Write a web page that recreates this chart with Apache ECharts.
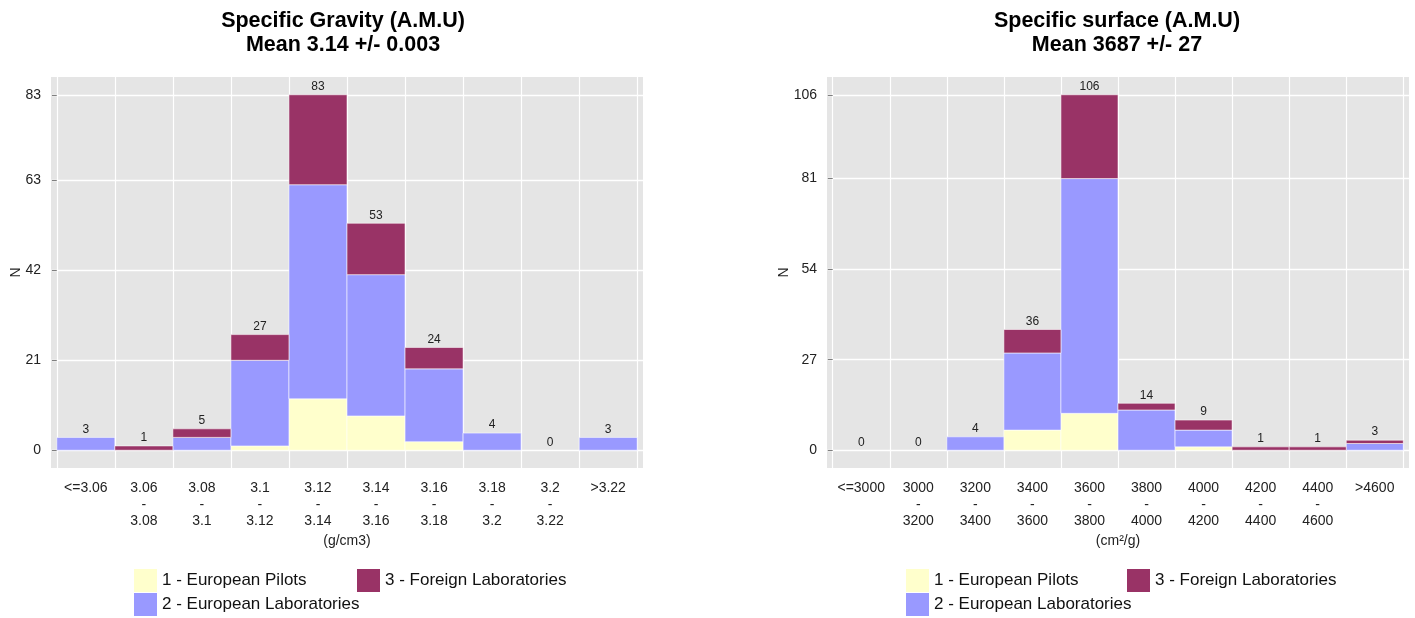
<!DOCTYPE html>
<html>
<head>
<meta charset="utf-8">
<script src="https://cdn.jsdelivr.net/npm/echarts@6/dist/echarts.min.js"></script>
<style>
html,body{margin:0;padding:0;background:#fff;}
#c{width:1415px;height:618px;}
</style>
</head>
<body>
<div id="c"></div>
<script>
// ---- data ----
const leftTitle = 'Specific Gravity (A.M.U)\nMean 3.14 +/- 0.003';
const rightTitle = 'Specific surface (A.M.U)\nMean 3687 +/- 27';
const leftCategories = ['<=3.06','3.06\n-\n3.08','3.08\n-\n3.1','3.1\n-\n3.12','3.12\n-\n3.14','3.14\n-\n3.16','3.16\n-\n3.18','3.18\n-\n3.2','3.2\n-\n3.22','>3.22'];
const rightCategories = ['<=3000','3000\n-\n3200','3200\n-\n3400','3400\n-\n3600','3600\n-\n3800','3800\n-\n4000','4000\n-\n4200','4200\n-\n4400','4400\n-\n4600','>4600'];
const leftPilots  = [0,0,0,1,12,8,2,0,0,0];
const leftEuLabs  = [3,0,3,20,50,33,17,4,0,3];
const leftForeign = [0,1,2,6,21,12,5,0,0,0];
const rightPilots  = [0,0,0,6,11,0,1,0,0,0];
const rightEuLabs  = [0,0,4,23,70,12,5,0,0,2];
const rightForeign = [0,0,0,7,25,2,3,1,1,1];
const leftTicks = [0,21,42,63,83];
const rightTicks = [0,27,54,81,106];
const leftXName = '(g/cm3)';
const rightXName = '(cm²/g)';
const seriesNames = ['1 - European Pilots','2 - European Laboratories','3 - Foreign Laboratories'];
const seriesColors = ['#FFFFCC','#9999FF','#993366'];

// ---- build ----
const FONT = 'Liberation Sans, Arial, sans-serif';
function stackSeries(gi, groups){
  const out = [];
  const base = groups[0].map(()=>0);
  groups.forEach((vals, k) => {
    const color = seriesColors[k];
    const data = vals.map((v,i)=>[i, base[i], base[i]+v]);
    vals.forEach((v,i)=>{ base[i]+=v; });
    out.push({
      type:'custom', name: seriesNames[k], xAxisIndex: gi, yAxisIndex: gi,
      itemStyle:{color: color},
      encode:{x:0, y:[1,2]},
      data: data,
      renderItem: (params, api) => {
        const i = api.value(0), b = api.value(1), t = api.value(2);
        if (t - b <= 0) return null;
        const p0 = api.coord([i, b]);
        const p1 = api.coord([i+1, t]);
        return {type:'rect', shape:{x:p0[0], y:p1[1], width:p1[0]-p0[0], height:p0[1]-p1[1]},
          style:{fill: color, stroke:'rgba(255,255,255,0.7)', lineWidth:0.8}};
      }
    });
  });
  out.push({
    type:'custom', name:'total', xAxisIndex: gi, yAxisIndex: gi,
    encode:{x:0, y:1},
    data: base.map((t,i)=>[i, t]),
    z: 5,
    renderItem: (params, api) => {
      const p = api.coord([api.value(0)+0.5, api.value(1)]);
      return {type:'text', style:{x:p[0], y:p[1]-2, text:String(api.value(1)), align:'center', verticalAlign:'bottom',
        fill:'#222', fontSize:12, fontFamily: FONT}};
    }
  });
  return out;
}
function xAxis(gi, cats, name){
  const centers = cats.map((c,i)=>i+0.5);
  const bounds = cats.map((c,i)=>i).concat([cats.length]);
  return {
    type:'value', gridIndex: gi, min:-0.1, max: cats.length+0.1,
    name: name, nameLocation:'middle', nameGap: 61,
    nameTextStyle:{fontSize:14, color:'#222', fontFamily: FONT},
    axisLine:{show:false},
    axisTick:{show:false, customValues: bounds},
    splitLine:{show:true, lineStyle:{color:'#ffffff', width:1.2}},
    axisLabel:{customValues: centers, fontSize:14, lineHeight:16.5, color:'#222', fontFamily: FONT, margin: 12,
      formatter: v => cats[Math.round(v-0.5)] }
  };
}
function yAxis(gi, ticks, gap){
  const top = ticks[ticks.length-1];
  return {
    type:'value', gridIndex: gi, min: -0.05*top, max: top*1.05,
    name:'N', nameLocation:'middle', nameGap: gap, nameRotate: 90, nameMoveOverlap: false,
    nameTextStyle:{fontSize:14, color:'#222', fontFamily: FONT},
    axisLine:{show:false},
    axisTick:{show:true, customValues: ticks, length:5, lineStyle:{color:'#7f7f7f', width:1}},
    splitLine:{show:true, lineStyle:{color:'#ffffff', width:1.3}},
    axisLabel:{customValues: ticks, fontSize:14, color:'#222', fontFamily: FONT, margin:10}
  };
}
function legends(x1, x2){
  const common = {itemWidth:23, itemHeight:23, icon:'rect', top:569, padding:0, selectedMode:false,
    textStyle:{fontSize:17, color:'#111', fontFamily: FONT}};
  return [
    Object.assign({}, common, {orient:'vertical', left:x1, itemGap:1, data:[seriesNames[0], seriesNames[1]]}),
    Object.assign({}, common, {orient:'vertical', left:x2, data:[seriesNames[2]]})
  ];
}
const option = {
  animation:false,
  backgroundColor:'#ffffff',
  title:[
    {text:leftTitle, left:338, top:4, textAlign:'center', textStyle:{fontSize:21.5, lineHeight:24, fontWeight:'bold', color:'#000', fontFamily: FONT}},
    {text:rightTitle, left:1112, top:4, textAlign:'center', textStyle:{fontSize:21.5, lineHeight:24, fontWeight:'bold', color:'#000', fontFamily: FONT}}
  ],
  legend: legends(134, 357).concat(legends(906, 1127)),
  grid:[
    {left:51, top:77, width:592, height:391, show:true, backgroundColor:'#E5E5E5', borderWidth:0, containLabel:false},
    {left:827, top:77, width:582, height:391, show:true, backgroundColor:'#E5E5E5', borderWidth:0, containLabel:false}
  ],
  xAxis:[xAxis(0, leftCategories, leftXName), xAxis(1, rightCategories, rightXName)],
  yAxis:[yAxis(0, leftTicks, 28), yAxis(1, rightTicks, 36)],
  series: stackSeries(0, [leftPilots, leftEuLabs, leftForeign]).concat(stackSeries(1, [rightPilots, rightEuLabs, rightForeign]))
};
const chart = echarts.init(document.getElementById('c'), null, {renderer:'canvas'});
chart.setOption(option);
</script>
</body>
</html>
